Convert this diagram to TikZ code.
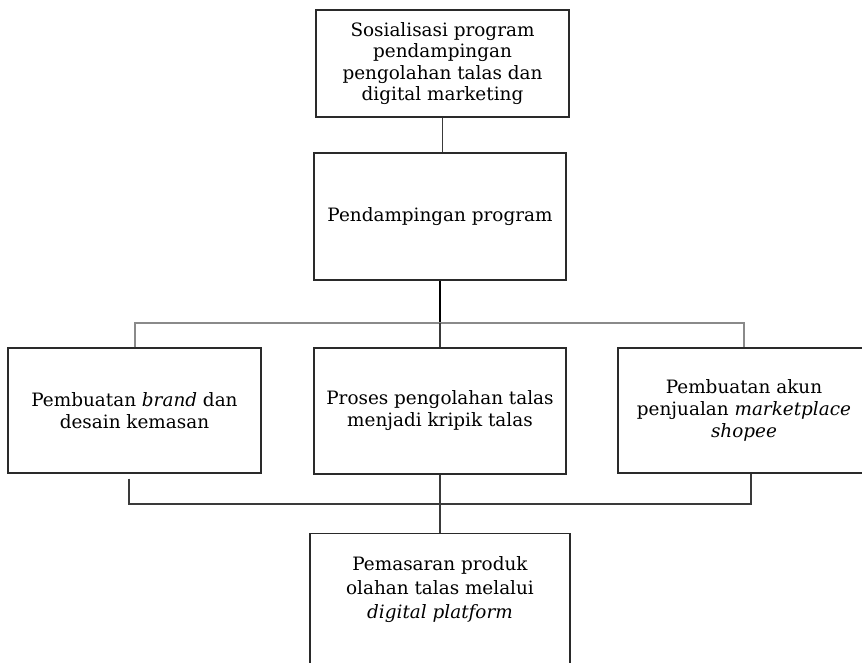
\documentclass[tikz,border=0pt]{standalone}
\usepackage{fontspec}
\setmainfont{DejaVu Serif}
\usetikzlibrary{calc}
\definecolor{boxc}{HTML}{2A2A2A}
\definecolor{linec}{HTML}{3A3A3A}
\definecolor{grayc}{HTML}{8A8A8A}
\tikzset{
  box/.style={draw=boxc, line width=1.3pt, inner sep=0pt, align=center},
  txt/.style={inner sep=0pt, align=center, text=black, font=\fontsize{18.4}{22}\selectfont},
  link/.style={draw=linec, line width=1.3pt},
  graylink/.style={draw=grayc, line width=2pt},
  thicklink/.style={draw=black, line width=2.2pt},
}
\begin{document}
\begin{tikzpicture}[x=1pt,y=-1pt]
\useasboundingbox (0,0) rectangle (862,662);
\node[box, txt, font=\fontsize{18.4}{21.5}\selectfont, minimum width=253, minimum height=107] (sos) at (442.5,63.5)
  {Sosialisasi program\\pendampingan\\pengolahan talas dan\\digital marketing};
\node[box, txt, minimum width=252, minimum height=127] (prog) at (440,216.5) {Pendampingan program};
\node[box, txt, minimum width=253, minimum height=125] (brand) at (134.5,410.5)
  {Pembuatan \textit{brand} dan\\desain kemasan};
\node[box, txt, minimum width=252, minimum height=126] (proses) at (440,411)
  {Proses pengolahan talas\\menjadi kripik talas};
\node[box, txt, minimum width=252, minimum height=125] (akun) at (744,410.5)
  {Pembuatan akun\\penjualan \textit{marketplace}\\\textit{shopee}};
\node[box, minimum width=260, minimum height=170, anchor=north] (pem) at (440,533) {};
\node[txt, font=\fontsize{18.4}{24}\selectfont, anchor=north] (pemtext) at (440,556.5)
  {Pemasaran produk\\olahan talas melalui\\\textit{digital platform}};
\coordinate (hub) at (440,323);
\coordinate (join) at (440,504);
\draw[link] (sos.south) -- (sos.south |- prog.north);
\draw[thicklink] (prog.south) -- (hub);
\draw[graylink] (brand.north) |- (hub) -| (akun.north);
\draw[link] (hub) -- (proses.north);
\draw[link] ([xshift=-5.5pt,yshift=-5pt]brand.south) |- (join) -| ([xshift=7pt]akun.south);
\draw[link] (proses.south) -- (pem.north);
\end{tikzpicture}
\end{document}
